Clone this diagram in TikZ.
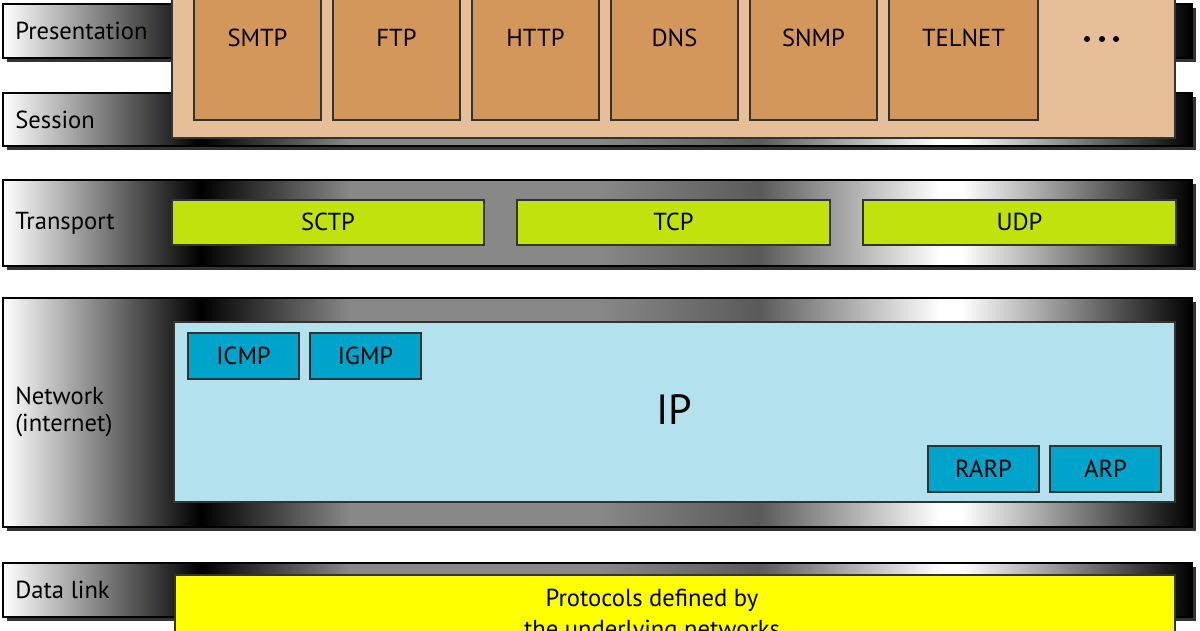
\documentclass[tikz,border=0pt]{standalone}
\usepackage{fontspec}
\setmainfont{PT Sans}
\usetikzlibrary{calc}
\usepackage{xcolor}

\definecolor{tanback}{HTML}{E6BE98}
\definecolor{tanbox}{HTML}{D4975B}
\definecolor{tpgreen}{HTML}{C2E20E}
\definecolor{iplight}{HTML}{B3E1EE}
\definecolor{ipdark}{HTML}{00A3C9}
\definecolor{dlyellow}{HTML}{FFFF00}
\definecolor{bandmid}{HTML}{888888}
\definecolor{banddark}{HTML}{5A5A5A}
\definecolor{bandshadow}{HTML}{333333}

\pgfdeclarehorizontalshading{bandshade}{100bp}{color(0bp)=(white); color(25bp)=(white);
 color(33.3bp)=(black); color(39.6bp)=(bandmid); color(50bp)=(bandmid);
 color(56.8bp)=(banddark); color(64.4bp)=(white); color(65.3bp)=(white);
 color(75bp)=(black); color(100bp)=(black)}

\begin{document}
\begin{tikzpicture}[x=0.2mm,y=-0.2mm,
 band/.style={draw=black, line width=0.8pt, shading=bandshade},
 shadow/.style={fill=bandshadow},
 lbl/.style={anchor=west, inner sep=0, align=left, font=\fontsize{14}{15.5}\selectfont},
 boxtxt/.style={inner sep=0, font=\fontsize{14}{17}\selectfont},
 appbox/.style={draw=black!80, line width=0.6pt, fill=tanbox},
 tpbox/.style={draw=black!80, line width=0.6pt, fill=tpgreen},
 ipbox/.style={draw=black!80, line width=0.6pt, fill=ipdark}]
\useasboundingbox (0,0) rectangle (1200,630);
\clip (0,0) rectangle (1200,630);
% layer bands
\foreach \top/\bot in {4/58, 93/146, 180/266, 298/527, 563/617} {
 \fill[shadow] (7,\top+4) rectangle (1196,\bot+4);
 \draw[band] (3,\top) rectangle (1192,\bot);
}
\node[lbl] (present) at (15,31) {Presentation};
\node[lbl] (session) at (15,120) {Session};
\node[lbl] (transport) at (15,223) {Transport};
\node[lbl] (network) at (15,412) {Network\\(internet)};
\node[lbl] (datalink) at (15,590) {Data link};
% application
\draw[draw=black!80, line width=0.6pt, fill=tanback] (172,-5) rectangle (1175,138);
\foreach \l/\r/\nm/\lab in {194/321/smtp/SMTP, 333/460/ftp/FTP, 472/599/http/HTTP, 611/738/dns/DNS, 750/877/snmp/SNMP, 889/1038/telnet/TELNET} {
 \draw[appbox] (\l,-5) rectangle (\r,120);
 \node[boxtxt] (\nm) at ({(\l+\r)/2},38) {\lab};
}
\foreach \x in {1087,1102,1116}
 \fill (\x,39) circle (3);
% transport
\foreach \l/\r/\nm/\lab in {172/484/sctp/SCTP, 517/830/tcp/TCP, 863/1176/udp/UDP} {
 \draw[tpbox] (\l,200) rectangle (\r,245);
 \node[boxtxt] (\nm) at ({(\l+\r)/2},222) {\lab};
}
% network
\draw[draw=black!80, line width=0.6pt, fill=iplight] (174,322) rectangle (1175,502);
\node[inner sep=0, font=\fontsize{24}{28}\selectfont] (ip) at (674,410) {IP};
\foreach \l/\t/\nm/\lab in {188/333/icmp/ICMP, 310/333/igmp/IGMP, 928/446/rarp/RARP, 1050/446/arp/ARP} {
 \draw[ipbox] (\l,\t) rectangle (\l+111,\t+46);
 \node[boxtxt] (\nm) at (\l+55.5,\t+23) {\lab};
}
% data link
\draw[draw=black!80, line width=0.6pt, fill=dlyellow] (175,575) rectangle (1175,650);
\node[boxtxt, align=center, anchor=north, font=\fontsize{14}{17.5}\selectfont] (under) at (652,589) {Protocols defined by\\the underlying networks};
\end{tikzpicture}
\end{document}
